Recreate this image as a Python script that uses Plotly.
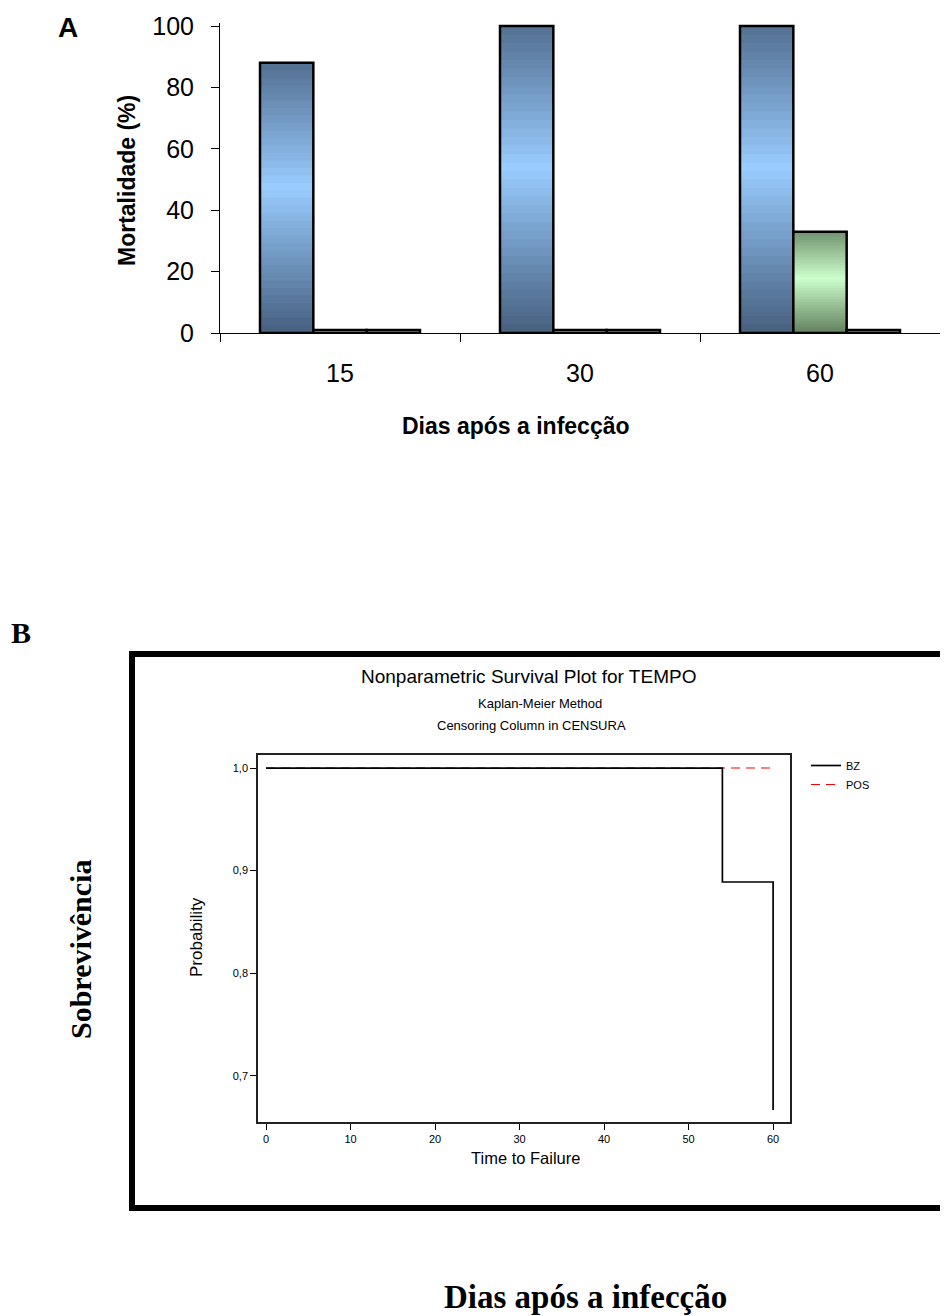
import plotly.graph_objects as go

# ---------------- Panel A data ----------------
days = ["15", "30", "60"]
mort_blue = [88, 100, 100]
mort_green = [1, 1, 33]
mort_brown = [1, 1, 1]
a_yticks = [0, 20, 40, 60, 80, 100]

# ---------------- Panel B data ----------------
bz_time = [0, 54, 60]
bz_surv = [1.0, 0.8889, 0.6667]
pos_time = [0, 60]
pos_surv = [1.0, 1.0]
km_xticks = [0, 10, 20, 30, 40, 50, 60]
km_yticks = [0.7, 0.8, 0.9, 1.0]
km_yticklabels = ["0,7", "0,8", "0,9", "1,0"]

# page body has an 8px default margin: the figure is sized/offset for it
OFF = 8
W, H = 948 - OFF, 1316 - OFF
def px(x):
    return (x - OFF) / W
def py(y):
    return 1 - (y - OFF) / H

SANS = "Liberation Sans, Arial, sans-serif"
SERIF = "Liberation Serif, Times New Roman, serif"

fig = go.Figure()

# gradient bars (dark - light - dark), built as stacked overlapping slices of each bar
series = [
    (mort_blue, (70, 95, 126), (153, 204, 255)),
    (mort_green, (98, 128, 94), (204, 255, 204)),
    (mort_brown, (110, 58, 38), (255, 204, 153)),
]
N = 36
for si, (vals, dark, light) in enumerate(series):
    for k in range(N):
        t = (k + 0.5) / N
        w = 1 - abs(2 * t - 1.08) / 1.08
        w = max(0.0, min(1.0, w))
        c = tuple(int(round(d + (l - d) * w)) for d, l in zip(dark, light))
        top = min(k + 2, N)
        fig.add_trace(go.Bar(
            x=days, y=[v * (top - k) / N for v in vals], base=[v * k / N for v in vals],
            offsetgroup=str(si), marker=dict(color="rgb(%d,%d,%d)" % c, line=dict(width=0)),
            showlegend=False, hoverinfo="skip", xaxis="x", yaxis="y"))
    fig.add_trace(go.Bar(
        x=days, y=vals, offsetgroup=str(si),
        marker=dict(color="rgba(0,0,0,0)", line=dict(color="black", width=2.5)),
        showlegend=False, xaxis="x", yaxis="y"))

# Kaplan-Meier curves
fig.add_trace(go.Scatter(x=pos_time, y=pos_surv, mode="lines", name="POS",
                         line=dict(color="red", width=1.1, dash="9px,6px"),
                         xaxis="x2", yaxis="y2"))
fig.add_trace(go.Scatter(x=bz_time, y=bz_surv, mode="lines", name="BZ",
                         line=dict(color="black", width=1.7, shape="hv"),
                         xaxis="x2", yaxis="y2"))

y101 = 333 - (333 - 26) * 1.01

fig.update_layout(
    template="none",
    width=W, height=H, autosize=False,
    margin=dict(l=0, r=0, t=0, b=0, pad=0),
    paper_bgcolor="white", plot_bgcolor="white",
    barmode="group", bargap=1/3, bargroupgap=0,
    font=dict(family=SANS, color="black"),
    xaxis=dict(domain=[px(220), px(940)], anchor="y", type="category", automargin=False,
               categoryorder="array", categoryarray=days,
               tickson="boundaries", ticks="outside", ticklen=8, tickcolor="black",
               showline=True, linecolor="black", linewidth=1,
               showgrid=False, zeroline=False, tickfont=dict(size=25, family=SANS),
               ticklabelstandoff=18),
    yaxis=dict(domain=[py(333), py(y101)], anchor="x", range=[0, 101], automargin=False,
               tickvals=a_yticks, ticks="outside", ticklen=8, tickcolor="black",
               showline=True, linecolor="black", linewidth=1,
               showgrid=False, zeroline=False, tickfont=dict(size=25, family=SANS),
               ticklabelstandoff=12),
    xaxis2=dict(domain=[px(258), px(790)], anchor="y2", range=[-0.95, 62.0], automargin=False,
                tickvals=km_xticks, ticks="outside", ticklen=6, tickcolor="black",
                showline=True, mirror=True, linecolor="#222", linewidth=1.5,
                showgrid=False, zeroline=False, tickfont=dict(size=11, family=SANS)),
    yaxis2=dict(domain=[py(1122), py(755)], anchor="x2", range=[0.655, 1.0127], automargin=False,
                tickvals=km_yticks, ticktext=km_yticklabels, ticks="outside",
                ticklen=6, tickcolor="black",
                showline=True, mirror=True, linecolor="#222", linewidth=1.5,
                showgrid=False, zeroline=False, tickfont=dict(size=11, family=SANS)),
    legend=dict(x=px(806), y=py(751), xanchor="left", yanchor="top",
                font=dict(size=11, family=SANS), bgcolor="rgba(0,0,0,0)",
                traceorder="reversed", itemwidth=30),
)

ann = [
    dict(text="<b>A</b>", x=px(68), y=py(28), size=28, family=SANS),
    dict(text="<b>Mortalidade (%)</b>", x=px(127), y=py(180), size=23, family=SANS, angle=-90),
    dict(text="<b>Dias após a infecção</b>", x=px(516), y=py(426), size=23, family=SANS),
    dict(text="<b>B</b>", x=px(21), y=py(632), size=30, family=SERIF),
    dict(text="Nonparametric Survival Plot for TEMPO", x=px(528), y=py(676), size=19, family=SANS),
    dict(text="Kaplan-Meier Method", x=px(540), y=py(703), size=13, family=SANS),
    dict(text="Censoring Column in CENSURA", x=px(531), y=py(725), size=13, family=SANS),
    dict(text="Probability", x=px(196), y=py(937), size=17, family=SANS, angle=-90),
    dict(text="Time to Failure", x=px(525), y=py(1158), size=16.5, family=SANS),
    dict(text="<b>Sobrevivência</b>", x=px(80), y=py(950), size=30, family=SERIF, angle=-90),
    dict(text="<b>Dias após a infecção</b>", x=px(585), y=py(1297), size=33, family=SERIF),
]
for a in ann:
    fig.add_annotation(text=a["text"], x=a["x"], y=a["y"], xref="paper", yref="paper",
                       xanchor="center", yanchor="middle", showarrow=False,
                       textangle=a.get("angle", 0),
                       font=dict(size=a["size"], family=a["family"], color="black"))

# big black frame around panel B
fig.add_shape(type="rect", xref="paper", yref="paper",
              x0=px(132), x1=px(975), y0=py(1208), y1=py(654),
              line=dict(color="black", width=6), fillcolor="rgba(0,0,0,0)")

fig.write_html("out.html")
